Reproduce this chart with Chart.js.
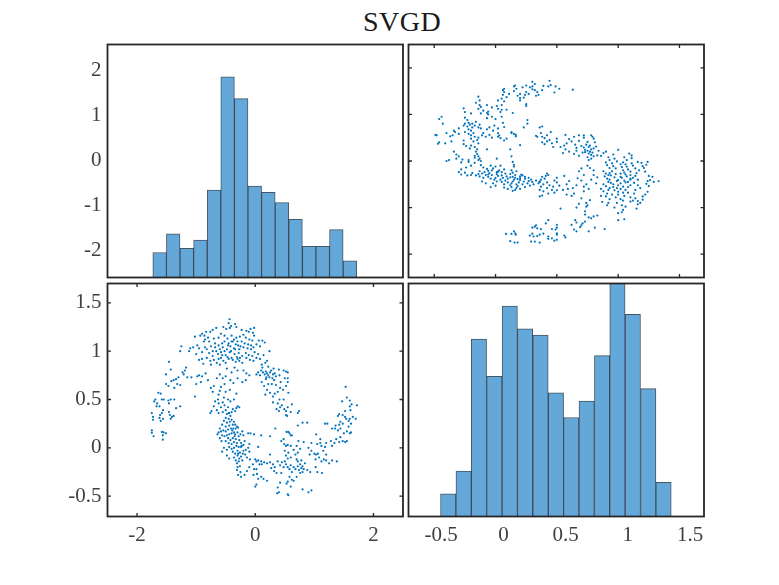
<!DOCTYPE html>
<html>
<head>
<meta charset="utf-8">
<title>SVGD</title>
<script src="https://cdn.jsdelivr.net/npm/chart.js@4"></script>
<style>
body { margin: 0; background: #fff; }
#fig { position: relative; width: 779px; height: 585px; overflow: hidden; }
#fig canvas { position: absolute; left: 0; top: 0; }
#title { position: absolute; left: 302px; width: 200px; top: 6px; text-align: center; color: #1a1a1a;
  font: 28px "Liberation Serif", serif; letter-spacing: 0.5px; }
</style>
</head>
<body>
<div id="fig">
  <div id="title">SVGD</div>
  <canvas id="topLeft" width="779" height="585"></canvas>
  <canvas id="topRight" width="779" height="585"></canvas>
  <canvas id="bottomLeft" width="779" height="585"></canvas>
  <canvas id="bottomRight" width="779" height="585"></canvas>
</div>
<script>
// histogram bins (centres) and counts
var topBins = [-1.618, -1.388, -1.158, -0.928, -0.698, -0.468, -0.238, -0.008, 0.222, 0.452, 0.682, 0.912, 1.142, 1.372, 1.602];
var topCounts = [12, 21, 14, 18, 42, 96.5, 86, 44, 41, 36, 28, 15, 15, 23, 8];
var bottomBins = [-0.444, -0.320, -0.197, -0.073, 0.051, 0.174, 0.298, 0.422, 0.545, 0.669, 0.793, 0.916, 1.040, 1.164, 1.287];
var bottomCounts = [5.5, 11, 43, 34, 51, 45.5, 44, 30, 24, 28, 39, 57, 49, 31, 8.3];

// tick values
var firstTicks = [-2, 0, 2];
var firstTicksRight = [-2, -1, 0, 1, 2];
var secondTicks = [-0.5, 0, 0.5, 1, 1.5];

var leftArm = [[-1.75,.36],[-1.73,.32],[-1.73,.29],[-1.75,.18],[-1.75,.155],[-1.72,.12],[-1.58,.165],[-1.51,.15],[-1.565,.13],[-1.565,.085],[-1.55,.16],[-1.61,.34],[-1.58,.36],[-1.62,.31],[-1.56,.30],[-1.46,.37],[-1.445,.34],[-1.41,.32],[-1.38,.33],[-1.43,.30],[-1.6,.28],[-1.56,.39],[-1.34,.41],[-1.27,.43],[-1.67,.43],[-1.62,.43],[-1.66,.46],[-1.69,.50],[-1.71,.48],[-1.58,.50],[-1.55,.50],[-1.47,.49],[-1.43,.50],[-1.37,.50],[-1.46,.46],[-1.64,.57],[-1.60,.56],[-1.51,.66],[-1.47,.64],[-1.38,.70],[-1.34,.71],[-1.32,.66],[-1.27,.65],[-1.37,.62],[-1.51,.76],[-1.43,.81],[-1.46,.89],[-1.23,.78],[-1.17,.83],[-1.19,.80],[-1.21,.76],[-1.15,.73],[-1.30,.73],[-1.42,.69],[-1.27,1.0],[-1.25,1.05],[-1.02,.53],[-1.0,.66],[-1.08,.73],[-.95,.75],[-.9,.74],[-.84,.77],[-.8,.70],[-.92,.68],[-.98,.74]];
var topArc = [[-.435,1.33],[-.45,1.29],[-.34,1.28],[-.41,1.26],[-.32,1.25],[-.54,1.25],[-.49,1.23],[-.43,1.24],[-.66,1.24],[-.72,1.22],[-.76,1.2],[-.83,1.2],[-.9,1.18],[-1.02,1.15],[-.93,1.16],[-.86,1.16],[-.02,1.24],[-.08,1.23],[-.23,1.22],[-.15,1.21],[-.11,1.20],[-.04,1.19],[-.2,1.17],[-.26,1.15],[-.8,1.14],[-.85,1.12],[-.87,1.10],[-.78,1.1],[-.7,1.13],[-.62,1.14],[-.58,1.18],[-.52,1.16],[-.47,1.13],[-.4,1.16],[-.36,1.12],[-.3,1.1],[-.16,1.14],[-.1,1.12],[-.05,1.11],[-.02,1.16],[.06,1.11],[.12,1.11],[.16,1.09],[.02,1.07],[.08,1.05],[-.98,1.06],[-1.05,1.04],[-1.12,1.0],[-1.1,1.03],[-.95,1.03],[-.9,.99],[-.82,1.02],[-.85,1.04],[-.75,1.05],[-.68,1.08],
[-.66,1.0],[-.63,.97],[-.6,1.02],[-.58,.99],[-.56,.96],[-.55,1.04],[-.52,1.0],[-.5,.96],[-.48,1.02],[-.47,.94],[-.45,1.08],[-.43,.99],[-.42,1.05],[-.4,.93],[-.38,1.1],[-.36,1.03],[-.35,.97],[-.33,1.07],[-.31,.94],[-.29,1.06],[-.28,.98],[-.26,.93],[-.25,1.05],[-.23,1.1],[-.22,.95],[-.2,1.04],[-.18,1.08],[-.16,.98],[-.15,.93],[-.13,1.03],[-.11,.96],[-.09,.91],[-.07,1.02],[-.05,.95],[-.03,.9],[-.01,.99],[.02,.93],[.05,.97],[.08,.92],[.11,.86],[.14,.96],[.17,.88],[.2,.9],[.24,1.0],[.22,.84],[-.72,.95],[-.76,.9],[-.78,.98],[-.7,.91],[-.65,.88],[-.6,.86],[-.62,.92],[-.82,.93],[-.88,.87],[-.9,.92],[-.95,.91],[-1.0,.97],[-.75,.86],[-.54,.9],[-.5,.88],[-.45,.92],[-.38,.91],[-.33,.89],[-.3,.92],[-.27,.9],[-.22,.88],[-.58,.93],[-.68,1.04],[-.72,1.0],[-.62,1.06],[-.56,1.08],[-.46,1.06],[-.41,1.0],[-.34,1.02],[-.27,1.02],[-.4,1.1],[-.32,1.14],[-.52,1.1],[-.12,1.07],[-.07,1.06],[-.03,1.04],
[.1,.8],[.13,.78],[.16,.76],[.18,.79],[.2,.77],[.22,.75],[.25,.78],[.27,.8],[.3,.76],[.33,.77],[.35,.74],[.31,.82],[.4,.81],[.48,.8],[.52,.79],[.55,.78],[.12,.83],[.08,.75],[.24,.73],[.29,.72],[.05,.78],[.19,.73],[.02,.76]];
var innerLeft = [[-.4,.78],[-.35,.83],[-.3,.8],[-.2,.8],[-.15,.77],[-.1,.75],[-.48,.82],[-.5,.74],[-.55,.72],[-.6,.76],[-.65,.72],[-.42,.7],[-.37,.67],[-.3,.72],[-.22,.68],[-.16,.7],[-.52,.66],[-.58,.63],[-.7,.64],[-.75,.62],[-.72,.58],[-.6,.59],[-.5,.58],[-.43,.6],[-.32,.56],[-.62,.55],[-.53,.52],[-.55,.47],[-.52,.44],[-.58,.42],[-.63,.5],[-.68,.48],[-.7,.43],[-.62,.46],[-.46,.5],[-.42,.48],[-.36,.5],[-.3,.43],[-.27,.42],[-.32,.41],[-.38,.4],[-.46,.42],[-.5,.39],[-.55,.37],[-.65,.39],[-.62,.36],[-.76,.36],[-.74,.38],[-.45,.36],[-.4,.37],[-.34,.38]];
var innerRight = [[.11,.68],[.15,.64],[.2,.6],[.25,.57],[.3,.53],[.33,.56],[.38,.58],[.42,.62],[.47,.6],[.52,.64],[.55,.68],[.56,.57],[.48,.5],[.41,.5],[.38,.46],[.42,.42],[.36,.4],[.4,.38],[.45,.44],[.49,.4],[.52,.38],[.54,.33],[.52,.34],[.55,.42],[.62,.45],[.6,.37],[.72,.36],[.74,.38],[.32,.7],[.35,.65],[.43,.68],[.28,.66],[.18,.71],[.22,.66],[.5,.72],[.41,.75],[.55,.72],[.3,.47],[.17,.55]];
var lowerCluster = [[-.48,.35],[-.44,.36],[-.42,.33],[-.45,.3],[-.5,.31],[-.53,.28],[-.48,.26],[-.43,.27],[-.4,.29],[-.36,.27],[-.34,.24],[-.38,.24],[-.44,.23],[-.5,.22],[-.56,.24],[-.6,.2],[-.62,.16],[-.64,.14],[-.58,.17],[-.54,.18],[-.5,.17],[-.46,.19],[-.41,.2],[-.37,.2],[-.33,.2],[-.29,.21],[-.36,.16],[-.4,.15],[-.44,.14],[-.48,.13],[-.52,.12],[-.56,.13],[-.6,.1],[-.35,.12],[-.3,.16],[-.33,.09],[-.38,.1],[-.42,.08],[-.5,.07],[-.57,.07],[-.45,.05],[-.4,.04],[-.36,.06],[-.31,.05],[-.27,.08],[-.24,.05],[-.2,.03],[-.18,.07],[-.24,.01],[-.28,.01],[-.32,.02],[-.36,.0],[-.4,-.01],[-.44,.01],[-.48,-.02],[-.56,-.04],[-.53,.0],[-.3,-.03],[-.26,-.05],[-.2,-.03],[-.16,-.02],[-.12,.0],[-.1,-.04],[-.34,-.06],[-.3,-.08],[-.36,-.1],[-.24,-.09],[-.17,-.07],[-.48,-.08],[-.44,-.11],[-.12,.15],[-.08,.15],[-.02,.14],[.1,.13],[.05,.01],[-.1,.04],[-.25,.14],[-.2,.13],[-.22,.17],[-.28,.12],[-.46,.1],
[-.33,-.13],[-.27,-.11],[-.22,-.13],[-.29,-.06],[-.21,-.06],[-.14,-.1],[-.38,-.04],[-.09,-.12],[-.23,.02],[-.34,.14],[-.39,.18],[-.31,.22],[.0,-.12],[.05,-.13],[.11,-.17],[.25,.12],[.25,-.07],[.48,.09],[.49,.04],[.53,.165],[.56,.165],[.34,.2],[.44,.07],[.52,.02]];
var bottomArc = [[-.31,-.16],[-.28,-.14],[-.3,-.2],[-.26,-.19],[-.31,-.23],[-.25,-.25],[-.29,-.28],[-.24,-.3],[-.18,-.28],[-.14,-.24],[-.1,-.2],[-.04,-.17],[-.02,-.22],[-.03,-.28],[.02,-.14],[.02,-.22],[.03,-.27],[.05,-.32],[.1,-.3],[.14,-.32],[.02,-.38],[.0,-.4],[.2,-.34],[.2,-.16],[.15,-.15],[.1,-.14],[.07,-.17],[.25,-.15],[.3,-.17],[.33,-.2],[.32,-.24],[.27,-.21],[.36,-.26],[.38,-.14],[.42,-.18],[.45,-.15],[.5,-.14],[.52,-.17],[.48,-.2],[.44,-.26],[.55,-.2],[.58,-.22],[.62,-.25],[.6,-.18],[.65,-.2],[.68,-.22],[.72,-.19],[.74,-.23],[.76,-.17],[.78,-.21],[.8,-.19],[.76,-.26],[.72,-.14],[.7,-.12],[.78,-.13],[.8,-.25],[.84,-.16],[.82,-.22],[.88,-.23],[.93,-.25],[1.02,-.2],[1.05,-.25],[1.13,-.26],[.58,-.3],[.55,-.35],[.62,-.33],[.6,-.4],[.53,-.37],[.42,-.36],[.38,-.41],[.4,-.46],[.37,-.47],[.55,-.48],[.56,-.49],[.65,-.34],[.8,-.43],[.9,-.46],[.95,-.44],[.7,-.3]];
var rightArm = [[.5,-.03],[.52,-.08],[.55,-.11],[.6,-.1],[.55,.03],[.6,.02],[.56,-.05],[.65,-.02],[.68,-.07],[.72,-.05],[.7,.02],[.76,-.01],[.73,.07],[.58,.15],[.62,.13],[.6,.13],[.72,.23],[.8,.26],[.88,.26],[.82,.06],[.9,.0],[.95,-.03],[.92,-.07],[.95,.05],[1.0,-.06],[1.03,-.07],[1.06,-.06],[1.02,-.12],[1.08,-.1],[1.12,-.14],[1.16,-.12],[1.2,-.13],[1.25,-.16],[1.3,-.13],[1.38,-.14],[1.2,-.07],[1.15,-.03],[1.12,.02],[1.18,.01],[1.1,.05],[1.05,.04],[1.03,.14],[1.1,.09],[1.2,.05],[1.28,.07],[1.34,.05],[1.3,.02],[1.22,.25],[1.18,.25],[1.3,.2],[1.35,.2],[1.4,.18],[1.44,.2],[1.5,.15],[1.55,.17],[1.6,.15],[1.62,.16],[1.48,.07],[1.52,.06],[1.55,.07],[1.44,.11],[1.42,.06],[1.37,.09],[1.58,.22],[1.62,.25],[1.58,.28],[1.4,.33],[1.42,.35],[1.48,.34],[1.52,.32],[1.44,.27],[1.42,.24],[1.36,.23],[1.48,.25],[1.54,.3],[1.6,.3],[1.7,.3],[1.65,.32],[1.47,.48],[1.55,.52],[1.53,.63],[1.6,.49],[1.63,.45],[1.72,.44],[1.52,.38],[1.61,.39],[1.6,.43]];
var allPoints = leftArm.concat(topArc, innerLeft, innerRight, lowerCluster, bottomArc, rightArm);

var inkColor = "#262626";
var barFill = "#63a8d8";
var barEdge = "rgba(10,30,50,0.75)";
var dotColor = "#0072BD";
var tickFont = { family: '"Liberation Serif", serif', size: 21 };
var axisRoom = 50; // room kept for a labelled axis, tick labels get clipped to it

// frame and inward ticks on all four sides, like a boxed MATLAB axes
var boxPlugin = {
    id: "box",
    afterDraw: function (chart, args, opts) {
        var c = chart.ctx, a = chart.chartArea, len = 3.5;
        c.save();
        c.strokeStyle = inkColor;
        c.lineWidth = 1.3;
        (opts.tickScales || []).forEach(function (id) {
            var s = chart.scales[id];
            s.ticks.forEach(function (t) {
                var p = s.getPixelForValue(t.value);
                c.beginPath();
                if (s.isHorizontal()) {
                    c.moveTo(p, a.bottom); c.lineTo(p, a.bottom - len);
                    c.moveTo(p, a.top); c.lineTo(p, a.top + len);
                } else {
                    c.moveTo(a.left, p); c.lineTo(a.left + len, p);
                    c.moveTo(a.right, p); c.lineTo(a.right - len, p);
                }
                c.stroke();
            });
        });
        c.lineWidth = 1.8;
        c.strokeRect(a.left, a.top, a.right - a.left, a.bottom - a.top);
        c.restore();
    }
};

function axis(min, max, ticks, shown, position) {
    return {
        type: "linear", position: position, min: min, max: max, display: shown, offset: false,
        grid: { display: false, drawTicks: false }, border: { display: false },
        afterBuildTicks: function (s) { s.ticks = ticks.map(function (v) { return { value: v }; }); },
        afterFit: function (s) {
            var room = shown ? axisRoom : 0;
            if (s.isHorizontal()) s.height = room; else s.width = room;
        },
        ticks: {
            autoSkip: false, maxRotation: 0, color: "#404040", font: tickFont, padding: 6,
            callback: function (v) { return String(v); }
        }
    };
}

// area = [left, top, right, bottom] of the plot box in the page
function baseOptions(area, scales, tickScales) {
    var pad = { left: area[0], top: area[1], right: 779 - area[2], bottom: 585 - area[3] };
    Object.keys(scales).forEach(function (k) {
        if (!scales[k].display) return;
        if (scales[k].position === "left") pad.left -= axisRoom;
        if (scales[k].position === "bottom") pad.bottom -= axisRoom;
    });
    return {
        responsive: false, animation: false, layout: { padding: pad },
        plugins: { legend: { display: false }, tooltip: { enabled: false }, box: { tickScales: tickScales } },
        scales: scales
    };
}

function hist(id, bins, counts, area, scales) {
    new Chart(document.getElementById(id), {
        type: "bar",
        data: { datasets: [{
            data: bins.map(function (b, i) { return { x: b, y: counts[i] }; }),
            backgroundColor: barFill, borderColor: barEdge, borderWidth: 1,
            barPercentage: 1, categoryPercentage: 1
        }] },
        options: baseOptions(area, scales, []),
        plugins: [boxPlugin]
    });
}

function scatter(id, points, area, scales) {
    new Chart(document.getElementById(id), {
        type: "scatter",
        data: { datasets: [{
            data: points.map(function (p) { return { x: p[0], y: p[1] }; }),
            backgroundColor: dotColor, borderWidth: 0, pointRadius: 1.1, pointHoverRadius: 1.1
        }] },
        options: baseOptions(area, scales, ["x", "y"]),
        plugins: [boxPlugin]
    });
}

hist("topLeft", topBins, topCounts, [107.5, 44.5, 403, 277.5], {
    x: axis(-2.5, 2.5, [], false, "bottom"),
    y: { min: 0, max: 112, display: false },
    labelAxis: axis(-2.6, 2.58, firstTicksRight, true, "left")
});

scatter("topRight", allPoints.map(function (p) { return [p[1], p[0]]; }), [408.5, 44.5, 704, 277.5], {
    x: axis(-0.71, 1.70, secondTicks, false, "bottom"),
    y: axis(-2.5, 2.5, firstTicksRight, false, "left")
});

scatter("bottomLeft", allPoints, [107.5, 283.5, 403, 516.5], {
    x: axis(-2.5, 2.5, firstTicks, true, "bottom"),
    y: axis(-0.71, 1.70, secondTicks, true, "left")
});

hist("bottomRight", bottomBins, bottomCounts, [408.5, 283.5, 704, 516.5], {
    x: axis(-0.763, 1.612, secondTicks, true, "bottom"),
    y: { min: 0, max: 56.5, display: false }
});
</script>
</body>
</html>
